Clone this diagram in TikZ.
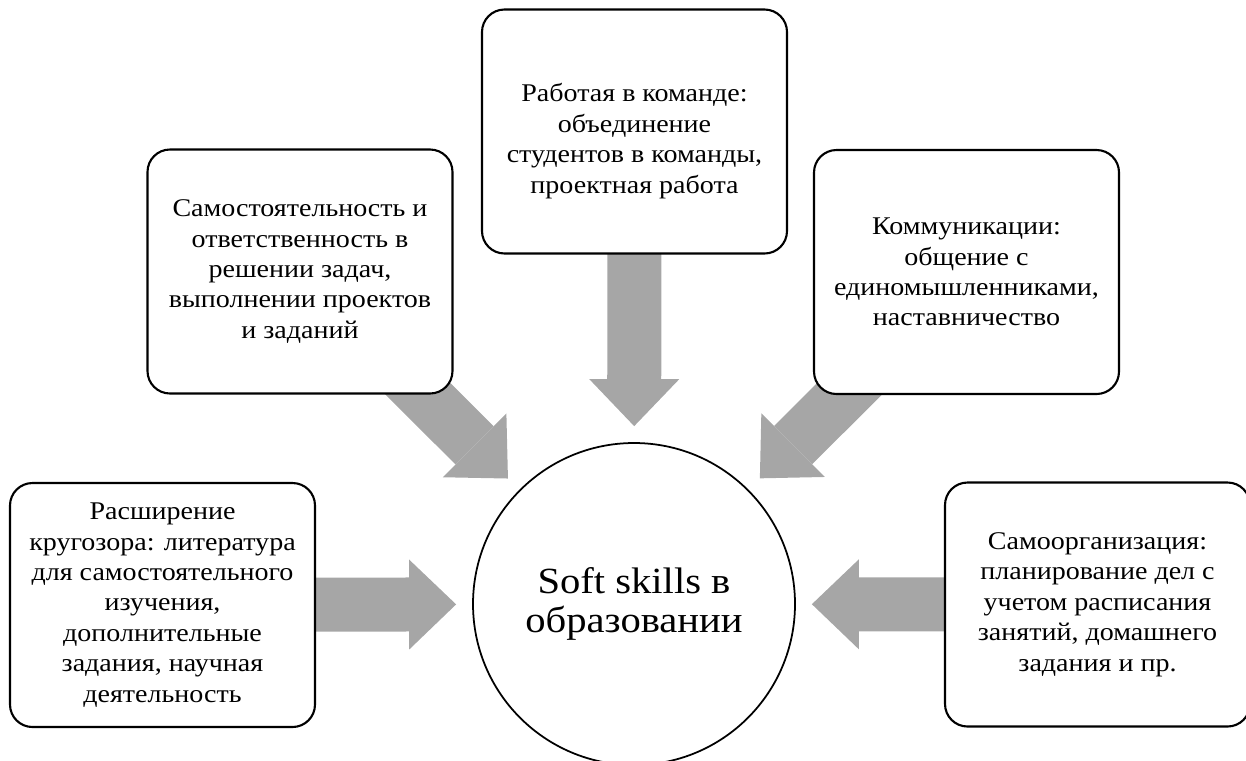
\documentclass[tikz,border=0pt]{standalone}
\usepackage{fontspec}
\setmainfont{Liberation Serif}[FakeStretch=1.1]
\usetikzlibrary{arrows.meta,backgrounds}
\definecolor{arrowgray}{RGB}{166,166,166}
\begin{document}
\begin{tikzpicture}[thick,
                    skill box/.style={draw,line width=1.2pt,rounded corners=0.45cm,fill=white,minimum width=6.1cm,minimum height=4.88cm,align=center,font=\fontsize{14.5}{17.3}\selectfont},
                    core node/.style={circle,draw,line width=1pt,fill=white,minimum size=6.44cm,align=center,font=\fontsize{21}{22}\selectfont},
                    big arrow/.style={draw,color=arrowgray,line width=1.08cm,-{Triangle[width=1.8cm,length=0.94cm,line width=0pt]},shorten >=0.32cm}
                   ]
   \useasboundingbox (0,0) rectangle (24.92,-15.2);
   \node[core node] (c) at (12.68,-12.08) {Soft skills в\\образовании};
   \node[skill box] (tl) at (6.00,-5.43) {Самостоятельность и\\ответственность в\\решении задач,\\выполнении проектов\\и заданий};
   \node[skill box] (tc) at (12.69,-2.63) {\rule{0pt}{0.75cm}Работая в команде:\\объединение\\студентов в команды,\\проектная работа};
   \node[skill box] (tr) at (19.33,-5.44) {Коммуникации:\\общение с\\единомышленниками,\\наставничество};
   \node[skill box] (lb) at (3.25,-12.10) {Расширение\\кругозора: литература\\для самостоятельного\\изучения,\\дополнительные\\задания, научная\\деятельность};
   \node[skill box] (rb) at (21.95,-12.09) {Самоорганизация:\\планирование дел с\\учетом расписания\\занятий, домашнего\\задания и пр.};
   \begin{scope}[on background layer]
   \path[big arrow]%
     (tl.center) edge (c)  % arrows start hidden under the boxes
     (tc.center) edge (c)
     (tr.center) edge (c)
     (lb.center) edge (c)
     (rb.center) edge (c);
   \end{scope}
 \end{tikzpicture}
\end{document}
